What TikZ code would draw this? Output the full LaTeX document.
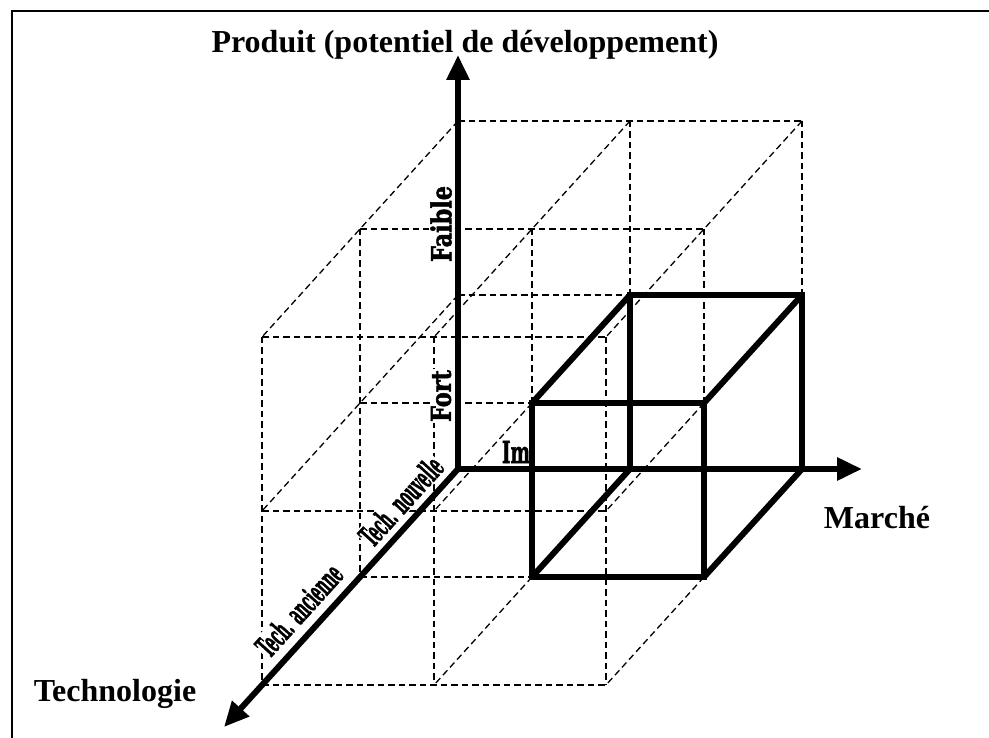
\documentclass[tikz,border=0pt]{standalone}
\usepackage{fontspec}
\setmainfont{Liberation Serif}
\newfontfamily\tagfont{DejaVu Serif}[BoldFeatures={FakeBold=2}]
\usepackage{graphicx}
\usetikzlibrary{arrows.meta}
\tikzset{
  gridline/.style={dash pattern=on 6.5pt off 4pt, line width=1.3pt},
  cubeline/.style={line width=6pt, line join=miter},
  axisline/.style={line width=6pt, line cap=rect, -{Triangle[length=25pt,width=22pt]}},
  bigtext/.style={font=\fontsize{32}{36}\selectfont\bfseries, inner sep=0pt},
  tagtext/.style={font=\fontsize{30}{34}\selectfont\tagfont\bfseries, fill=white, inner sep=1pt},
}
\begin{document}
\begin{tikzpicture}[x=1pt,y=-1pt]
\useasboundingbox (0,0) rectangle (989,738);
% frame
\draw[line width=1.5pt] (12,738) -- (12,11) -- (989,11);
% lattice points p<X><Y><Z>
\foreach \X in {0,1,2}{\foreach \Y in {0,1,2}{\foreach \Z in {0,1,2}{
  \coordinate (p\X\Y\Z) at ({458+172*\X-98*\Z},{469-174*\Y+108*\Z});
}}}
% dashed grid: X-direction
\draw[gridline] (p020)--(p220) (p010)--(p110) (p021)--(p221) (p011)--(p111)
  (p001)--(p101) (p022)--(p222) (p012)--(p212) (p002)--(p202);
% Y-direction
\draw[gridline] (p120)--(p110) (p220)--(p210) (p021)--(p001) (p121)--(p111)
  (p221)--(p211) (p022)--(p002) (p122)--(p102) (p222)--(p202);
% Z-direction
\draw[gridline] (p020)--(p022) (p120)--(p122) (p220)--(p222) (p010)--(p012)
  (p111)--(p112) (p211)--(p212) (p101)--(p102) (p201)--(p202);
% labels
\node[bigtext, anchor=base] (prod) at (465,53) {Produit (potentiel de développement)};
\node[bigtext] (march) at (877,518) {Marché};
\node[bigtext] (techno) at (115,694) {Technologie};
\node[tagtext, rotate=90] (faible) at (441,224) {\resizebox{76pt}{21pt}{Faible}};
\node[tagtext, rotate=90] (fort) at (441,396) {\resizebox{52pt}{20pt}{Fort}};
\node[tagtext] (im) at (516,452) {\resizebox{28pt}{22pt}{Im}};
\node[tagtext, rotate=47.8] (tnouv) at (401,501) {\resizebox{108pt}{23pt}{Tech. nouvelle}};
\node[tagtext, rotate=47.8] (tanc) at (299,610) {\resizebox{112pt}{23pt}{Tech. ancienne}};
% solid cube
\draw[cubeline] (p110)--(p210)--(p200)--(p100)--cycle;
\draw[cubeline] (p111)--(p211)--(p201)--(p101)--cycle;
\draw[cubeline] (p110)--(p111) (p210)--(p211) (p200)--(p201) (p100)--(p101);
% axes
\coordinate (O) at (p000);
\coordinate (ytip) at (458,55);
\coordinate (xtip) at (862,469);
\coordinate (ztip) at (224,727);
\draw[axisline] (O)--(ytip);
\draw[axisline] (O)--(xtip);
\draw[axisline] (O)--(ztip);
\end{tikzpicture}
\end{document}
